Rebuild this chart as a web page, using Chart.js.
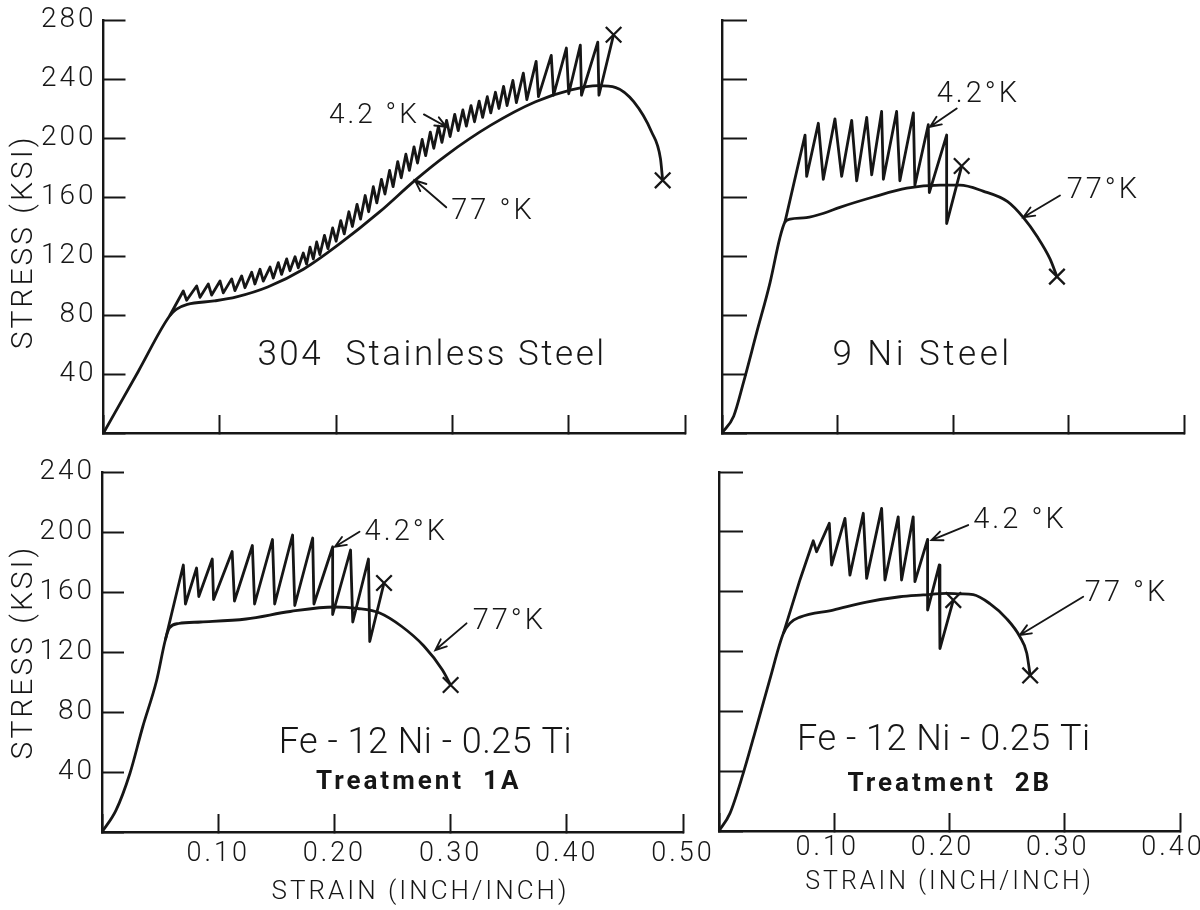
<!DOCTYPE html>
<html lang="en">
<head>
<meta charset="UTF-8">
<title>Stress-strain curves at 4.2 K and 77 K</title>
<script src="https://cdn.jsdelivr.net/npm/chart.js"></script>
<style>
  html, body { margin: 0; padding: 0; background: #fff; }
  #wrap { position: relative; width: 1200px; height: 910px; overflow: hidden; background: #fff; }
  #wrap canvas { position: absolute; left: 0; top: 0; }
</style>
</head>
<body>
<div id="wrap">
  <canvas id="tl" width="1200" height="910"></canvas>
  <canvas id="tr" width="1200" height="910"></canvas>
  <canvas id="bl" width="1200" height="910"></canvas>
  <canvas id="br" width="1200" height="910"></canvas>
</div>
<script>
// tick labels
const stressTicksTop = ['', '40', '80', '120', '160', '200', '240', '280'];
const stressTicksBottom = ['', '40', '80', '120', '160', '200', '240'];
const strainTicksLeft = ['', '0.10', '0.20', '0.30', '0.40', '0.50'];
const strainTicksRight = ['', '0.10', '0.20', '0.30', '0.40'];

// 304 stainless steel (4.2 K curve starts where it leaves the 77 K curve)
const ss77Strain = [0, 0.03, 0.0568, 0.0625, 0.0721, 0.0952, 0.1144, 0.1412, 0.1719, 0.2026, 0.2371, 0.2678, 0.2947, 0.3331, 0.3715, 0.4021, 0.4252, 0.4405, 0.4559, 0.4712, 0.4789, 0.4808];
const ss77Stress = [0, 41.9, 79.3, 83.8, 87.2, 89.5, 92.3, 99, 111, 128, 149.7, 171.3, 188.3, 208.7, 224.6, 232.6, 235.5, 234.2, 224.6, 204.2, 186, 171.3];
const ss42Strain = [0.0568,
  0.0686, 0.0715, 0.0801, 0.0830, 0.0901, 0.0930, 0.1002, 0.1030, 0.1102, 0.1130,
  0.1188, 0.1216, 0.1274, 0.1302, 0.1346, 0.1374, 0.1432, 0.1460, 0.1503, 0.1531,
  0.1575, 0.1603, 0.1647, 0.1675, 0.1718, 0.1746, 0.1776, 0.1804, 0.1833, 0.1861,
  0.190, 0.193, 0.197, 0.200, 0.204, 0.207, 0.211, 0.214, 0.218, 0.221,
  0.225, 0.228, 0.232, 0.235, 0.239, 0.242, 0.246, 0.249, 0.253, 0.256,
  0.260, 0.263, 0.267, 0.270, 0.274, 0.277, 0.281, 0.284, 0.288, 0.291,
  0.295, 0.298, 0.302, 0.305, 0.309, 0.312, 0.316, 0.319, 0.323, 0.326,
  0.330, 0.333, 0.337, 0.340, 0.344, 0.347, 0.352, 0.355, 0.361, 0.364,
  0.372, 0.374, 0.385, 0.387, 0.398, 0.400, 0.410, 0.411, 0.425, 0.426,
  0.4386];
const ss42Stress = [79.3,
  96.3, 90, 99.7, 92, 101, 93.5, 103, 95, 104.5, 96.5,
  106.5, 98.5, 109, 101, 111, 103, 112.5, 105, 115.5, 107.5,
  118, 110, 119.5, 112, 122, 114.5, 126, 118, 129.5, 121,
  134, 125, 139, 130, 144, 135, 150, 140, 155, 145,
  161, 150, 167, 156, 172, 162, 178, 167, 184, 173,
  189, 178, 194, 183, 199, 188, 204, 193, 208, 197,
  212, 201, 216, 205, 219, 208, 222, 211, 225, 214,
  228, 217, 231, 220, 235, 222, 239, 224, 244, 226,
  252, 228, 256, 229, 261, 230, 263, 229, 265, 229,
  270];

// 9 Ni steel
const ni77Strain = [0, 0.0101, 0.0185, 0.03, 0.0416, 0.05, 0.0545, 0.059, 0.073, 0.088, 0.102, 0.131, 0.16, 0.189, 0.206, 0.226, 0.247, 0.261, 0.273, 0.284, 0.29];
const ni77Stress = [0, 11.4, 34, 68, 102, 132, 143, 145, 146, 149, 153, 160, 166, 168, 168, 164, 157, 146, 133, 118, 106];
const ni42Strain = [0.0545, 0.0719, 0.0733, 0.0834, 0.0877, 0.0978, 0.1036, 0.1123, 0.1166, 0.1253, 0.1296, 0.1382, 0.1397, 0.1512, 0.154, 0.1657, 0.167, 0.1786, 0.1795, 0.1945, 0.1945, 0.2075];
const ni42Stress = [143, 202, 174, 210, 172, 213, 174, 212, 171, 214, 175, 218, 172, 218, 171, 217, 168, 209, 163, 202, 142, 181];

// Fe-12Ni-0.25Ti, treatment 1A
const t1a77Strain = [0, 0.012, 0.024, 0.035, 0.047, 0.0545, 0.058, 0.066, 0.085, 0.124, 0.162, 0.2, 0.22, 0.239, 0.258, 0.277, 0.293, 0.3];
const t1a77Stress = [0, 14.4, 39, 70, 101, 128, 136, 139, 140, 142, 147, 150, 149, 146, 137, 124, 108, 98];
const t1a42Strain = [0.0545, 0.07, 0.0718, 0.0814, 0.0833, 0.0949, 0.096, 0.112, 0.114, 0.1294, 0.1313, 0.1467, 0.1486, 0.164, 0.1659, 0.1813, 0.1824, 0.1985, 0.1985, 0.2139, 0.2158, 0.2293, 0.2304, 0.2427];
const t1a42Stress = [128, 178, 152, 176, 157, 182, 155, 187, 154, 191, 152, 195, 152, 198, 151, 196, 152, 190, 145, 188, 140, 182, 127, 166];

// Fe-12Ni-0.25Ti, treatment 2B
const t2b77Strain = [0, 0.0095, 0.021, 0.0327, 0.044, 0.0558, 0.0616, 0.0703, 0.099, 0.128, 0.157, 0.1773, 0.1975, 0.2091, 0.2206, 0.235, 0.2495, 0.261, 0.267, 0.27];
const t2b77Stress = [0, 11.8, 38.5, 70, 101, 132, 139, 143, 147.7, 153, 156.6, 157.8, 158.9, 158.5, 158, 152, 142, 130, 119, 104];
const t2b42Strain = [0.0558, 0.0703, 0.0818, 0.0847, 0.0957, 0.0977, 0.1093, 0.1136, 0.1252, 0.1281, 0.1411, 0.144, 0.1555, 0.1584, 0.1685, 0.17, 0.181, 0.181, 0.1911, 0.1917, 0.2033];
const t2b42Stress = [132, 168, 194, 186.7, 205.7, 177.8, 209, 171, 212.4, 168.9, 215.7, 167.8, 210, 167.8, 210, 166.7, 195, 147.7, 177.8, 122, 154.4];

const INK = '#161616';
const FONT = "Roboto, 'DejaVu Sans', sans-serif";
Chart.defaults.font.family = FONT;
Chart.defaults.color = INK;

// labels, arrows and captions placed in data coordinates
const notesPlugin = {
  id: 'notes',
  afterDatasetsDraw(chart, args, opts) {
    const { ctx } = chart;
    const sx = chart.scales.x, sy = chart.scales.y;
    (opts.items || []).forEach(n => {
      ctx.save();
      ctx.fillStyle = INK;
      ctx.strokeStyle = INK;
      if (n.arrow) {
        const ax = sx.getPixelForValue(n.arrow[0]), ay = sy.getPixelForValue(n.arrow[1]);
        const bx = sx.getPixelForValue(n.arrow[2]), by = sy.getPixelForValue(n.arrow[3]);
        const ang = Math.atan2(by - ay, bx - ax);
        ctx.lineWidth = 1.9;
        ctx.lineCap = 'round';
        ctx.beginPath();
        ctx.moveTo(ax, ay);
        ctx.lineTo(bx, by);
        ctx.moveTo(bx - 12 * Math.cos(ang - 0.4), by - 12 * Math.sin(ang - 0.4));
        ctx.lineTo(bx, by);
        ctx.lineTo(bx - 12 * Math.cos(ang + 0.4), by - 12 * Math.sin(ang + 0.4));
        ctx.stroke();
      }
      if (n.text) {
        ctx.letterSpacing = (n.spacing == null ? 3 : n.spacing) + 'px';
        ctx.font = (n.weight || 300) + ' ' + (n.size || 29) + 'px ' + FONT;
        ctx.textAlign = n.align || 'left';
        ctx.textBaseline = 'middle';
        ctx.fillText(n.text, sx.getPixelForValue(n.x), sy.getPixelForValue(n.y));
      }
      ctx.restore();
    });
  }
};

const spacingPlugin = {
  id: 'spacing',
  beforeDraw(chart) { chart.ctx.letterSpacing = '3px'; },
  afterDraw(chart) { chart.ctx.letterSpacing = '0px'; }
};

function toPoints(xs, ys) {
  return xs.map((x, i) => ({ x: x, y: ys[i] }));
}

function curve(label, xs, ys, smooth) {
  return {
    label: label,
    data: toPoints(xs, ys),
    borderColor: INK,
    borderWidth: 2.8,
    tension: 0,
    cubicInterpolationMode: smooth ? 'monotone' : 'default',
    borderJoinStyle: 'round',
    pointStyle: 'crossRot',
    pointRadius: c => (c.dataIndex === xs.length - 1 ? 11 : 0),
    pointBorderWidth: 2.3,
    pointBorderColor: INK,
    pointBackgroundColor: INK,
    clip: false
  };
}

function makePanel(id, p) {
  const yW = p.yWidth, xH = p.xHeight;
  new Chart(document.getElementById(id), {
    type: 'line',
    data: { datasets: p.datasets },
    plugins: [spacingPlugin, notesPlugin],
    options: {
      responsive: false,
      animation: false,
      events: [],
      layout: {
        autoPadding: false,
        padding: { left: p.area[0] - yW, top: p.area[1], right: 1200 - p.area[2], bottom: 910 - p.area[3] - xH }
      },
      plugins: {
        legend: { display: false },
        tooltip: { enabled: false },
        notes: { items: p.notes }
      },
      scales: {
        x: {
          type: 'linear',
          min: 0,
          max: p.xMax,
          afterFit: s => { s.height = xH; s.paddingLeft = 0; s.paddingRight = 0; },
          ticks: {
            stepSize: 0.1,
            display: !!p.xLabels,
            autoSkip: false,
            maxRotation: 0,
            padding: p.xPad || 20,
            labelOffset: p.xShift || 0,
            color: INK,
            font: { size: 27, weight: 300 },
            callback: (v, i) => (p.xLabels ? p.xLabels[i] : '')
          },
          grid: { drawOnChartArea: false, drawTicks: true, tickLength: -18, tickWidth: 2, tickColor: INK },
          border: { display: true, color: INK, width: 2.4 },
          title: {
            display: !!p.xTitle,
            text: p.xTitle || '',
            color: INK,
            font: { size: p.xTitleSize || 26, weight: 300 },
            padding: { top: 0, bottom: p.xTitlePad || 0 }
          }
        },
        y: {
          type: 'linear',
          min: 0,
          max: p.yMax,
          afterFit: s => { s.width = yW; s.paddingTop = 0; s.paddingBottom = 0; },
          ticks: {
            stepSize: 40,
            display: !!p.yLabels,
            autoSkip: false,
            padding: 29,
            color: INK,
            font: { size: 28, weight: 300 },
            callback: (v, i) => (p.yLabels ? p.yLabels[i] : '')
          },
          grid: { drawOnChartArea: false, drawTicks: true, tickLength: -p.yTick, tickWidth: 2, tickColor: INK },
          border: { display: true, color: INK, width: 2.4 },
          title: {
            display: !!p.yTitle,
            text: p.yTitle || '',
            color: INK,
            font: { size: 30, weight: 300 },
            padding: { top: 6, bottom: 0 }
          }
        }
      }
    }
  });
}

makePanel('tl', {
  area: [103.5, 20, 685, 433], yWidth: 103.5, xHeight: 10,
  xMax: 0.5, yMax: 280, yTick: 22,
  yLabels: stressTicksTop, yTitle: 'STRESS (KSI)   ',
  datasets: [curve('77 K', ss77Strain, ss77Stress, true), curve('4.2 K', ss42Strain, ss42Stress, false)],
  notes: [
    { text: '4.2 °K', x: 0.272, y: 215, align: 'right', size: 28 },
    { arrow: [0.2755, 216, 0.2947, 207.6] },
    { text: '77 °K', x: 0.299, y: 150, align: 'left', size: 29 },
    { arrow: [0.2947, 153, 0.2678, 171.3] },
    { text: '304  Stainless Steel', x: 0.2825, y: 52, align: 'center', size: 35, spacing: 2.5 }
  ]
});

makePanel('tr', {
  area: [722, 20, 1184, 433], yWidth: 20, xHeight: 10,
  xMax: 0.4, yMax: 280, yTick: 25,
  datasets: [curve('77 K', ni77Strain, ni77Stress, true), curve('4.2 K', ni42Strain, ni42Stress, false)],
  notes: [
    { text: '4.2°K', x: 0.1859, y: 229, align: 'left', size: 29 },
    { arrow: [0.2032, 220, 0.1801, 207.6] },
    { text: '77°K', x: 0.2984, y: 164.5, align: 'left', size: 29 },
    { arrow: [0.2926, 161, 0.2609, 146.3] },
    { text: '9 Ni Steel', x: 0.1736, y: 52, align: 'center', size: 35, spacing: 3.5 }
  ]
});

makePanel('bl', {
  area: [102, 472, 683, 832], yWidth: 102, xHeight: 78,
  xMax: 0.5, yMax: 240, yTick: 22,
  yLabels: stressTicksBottom, yTitle: 'STRESS (KSI)',
  xLabels: strainTicksLeft, xPad: 24,
  xTitle: '      STRAIN (INCH/INCH)', xTitleSize: 26, xTitlePad: 2,
  datasets: [curve('77 K', t1a77Strain, t1a77Stress, true), curve('4.2 K', t1a42Strain, t1a42Stress, false)],
  notes: [
    { text: '4.2°K', x: 0.226, y: 199.6, align: 'left', size: 29 },
    { arrow: [0.2216, 200.2, 0.2005, 190.2] },
    { text: '77°K', x: 0.319, y: 140.2, align: 'left', size: 29 },
    { arrow: [0.3137, 139.1, 0.2869, 121.3] },
    { text: 'Fe - 12 Ni - 0.25 Ti', x: 0.2783, y: 58.7, align: 'center', size: 36, spacing: 0.5 },
    { text: 'Treatment  1A', x: 0.2725, y: 32.7, align: 'center', size: 26, weight: 700, spacing: 3 }
  ]
});

makePanel('br', {
  area: [719, 472, 1180, 831], yWidth: 20, xHeight: 79,
  xMax: 0.4, yMax: 240, yTick: 24,
  xLabels: strainTicksRight, xPad: 19, xShift: -7,
  xTitle: 'STRAIN (INCH/INCH)', xTitleSize: 25, xTitlePad: 12,
  datasets: [curve('77 K', t2b77Strain, t2b77Stress, true), curve('4.2 K', t2b42Strain, t2b42Stress, false)],
  notes: [
    { text: '4.2 °K', x: 0.2206, y: 207.4, align: 'left', size: 29 },
    { arrow: [0.2162, 204.5, 0.1844, 194.5] },
    { text: '77 °K', x: 0.3174, y: 158.9, align: 'left', size: 29 },
    { arrow: [0.316, 156.6, 0.2611, 131] },
    { text: 'Fe - 12 Ni - 0.25 Ti', x: 0.1951, y: 60.2, align: 'center', size: 36, spacing: 0.5 },
    { text: 'Treatment  2B', x: 0.2003, y: 31.4, align: 'center', size: 26, weight: 700, spacing: 3 }
  ]
});
</script>
</body>
</html>
